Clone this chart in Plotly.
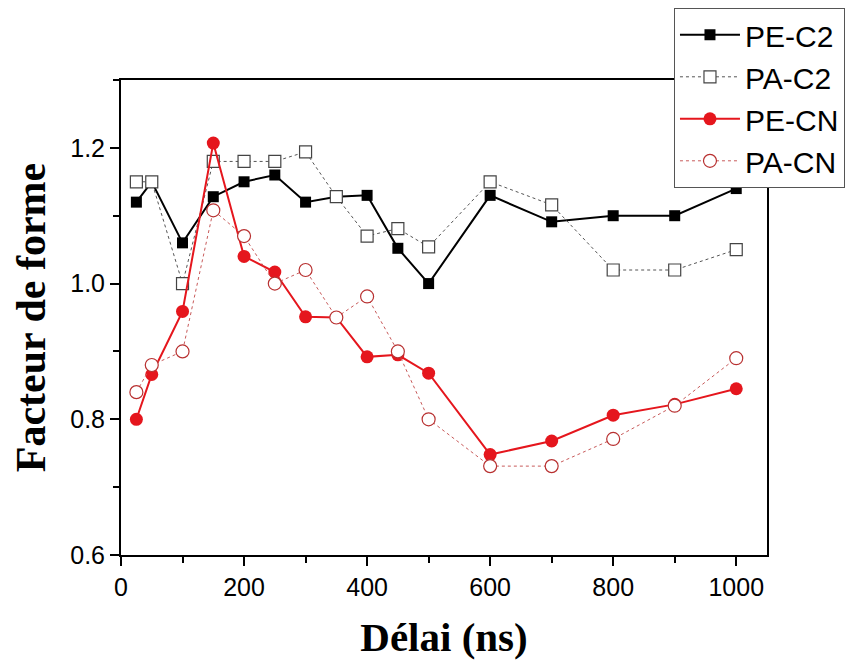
import plotly.graph_objects as go

delai = [25, 50, 100, 150, 200, 250, 300, 350, 400, 450, 500, 600, 700, 800, 900, 1000]
pe_c2 = [1.12, 1.15, 1.06, 1.128, 1.15, 1.16, 1.12, 1.128, 1.13, 1.052, 1.00, 1.13, 1.091, 1.10, 1.10, 1.14]
pa_c2 = [1.15, 1.15, 1.00, 1.18, 1.18, 1.18, 1.194, 1.128, 1.07, 1.081, 1.054, 1.15, 1.116, 1.02, 1.02, 1.05]
pe_cn = [0.80, 0.866, 0.959, 1.207, 1.04, 1.017, 0.951, 0.95, 0.892, 0.895, 0.868, 0.748, 0.768, 0.806, 0.822, 0.845]
pa_cn = [0.84, 0.88, 0.90, 1.108, 1.07, 1.00, 1.02, 0.95, 0.981, 0.90, 0.80, 0.731, 0.731, 0.771, 0.82, 0.89]

fig = go.Figure()
fig.add_trace(go.Scatter(x=delai, y=pe_c2, name="PE-C2", mode="lines+markers",
                         line=dict(color="black", width=2),
                         marker=dict(symbol="square", size=11, color="black")))
fig.add_trace(go.Scatter(x=delai, y=pa_c2, name="PA-C2", mode="lines+markers",
                         line=dict(color="#555555", width=1, dash="dot"),
                         marker=dict(symbol="square", size=12, color="white",
                                     line=dict(color="#444444", width=1.2))))
fig.add_trace(go.Scatter(x=delai, y=pe_cn, name="PE-CN", mode="lines+markers",
                         line=dict(color="#e5161d", width=2),
                         marker=dict(symbol="circle", size=13, color="#e5161d")))
fig.add_trace(go.Scatter(x=delai, y=pa_cn, name="PA-CN", mode="lines+markers",
                         line=dict(color="#c85a5a", width=1, dash="dot"),
                         marker=dict(symbol="circle", size=13, color="white",
                                     line=dict(color="#b83030", width=1.2))))

axis_common = dict(showline=True, linecolor="black", linewidth=2, mirror=True,
                   ticks="outside", ticklen=9, tickwidth=1.5, tickcolor="black",
                   showgrid=False, zeroline=False, automargin=False,
                   tickfont=dict(family="Liberation Sans, Arial", size=25, color="black"))

fig.update_xaxes(range=[0, 1050], tick0=0, dtick=200,
                 minor=dict(ticks="outside", ticklen=6, tickwidth=1.5, tickcolor="black", dtick=100),
                 title=dict(text="Délai (ns)", standoff=22,
                            font=dict(family="Liberation Serif, Times New Roman", size=41,
                                      color="black", weight="bold")),
                 **axis_common)
fig.update_yaxes(range=[0.6, 1.3], tick0=0.6, dtick=0.2, tickformat=".1f",
                 minor=dict(ticks="outside", ticklen=6, tickwidth=1.5, tickcolor="black", dtick=0.1),
                 title=dict(text="Facteur de forme", standoff=14,
                            font=dict(family="Liberation Serif, Times New Roman", size=42,
                                      color="black", weight="bold")),
                 **axis_common)

fig.update_layout(
    width=846, height=652,
    margin=dict(l=113, r=87, t=72, b=105, autoexpand=False),
    plot_bgcolor="white", paper_bgcolor="white",
    font=dict(family="Liberation Sans, Arial", color="black"),
    legend=dict(x=0.856, y=1.152, xanchor="left", yanchor="top",
                bgcolor="white", bordercolor="#555555", borderwidth=1,
                font=dict(family="Liberation Sans, Arial", size=30, color="black"),
                tracegroupgap=0, itemwidth=60),
)

fig.write_html("out.html")
